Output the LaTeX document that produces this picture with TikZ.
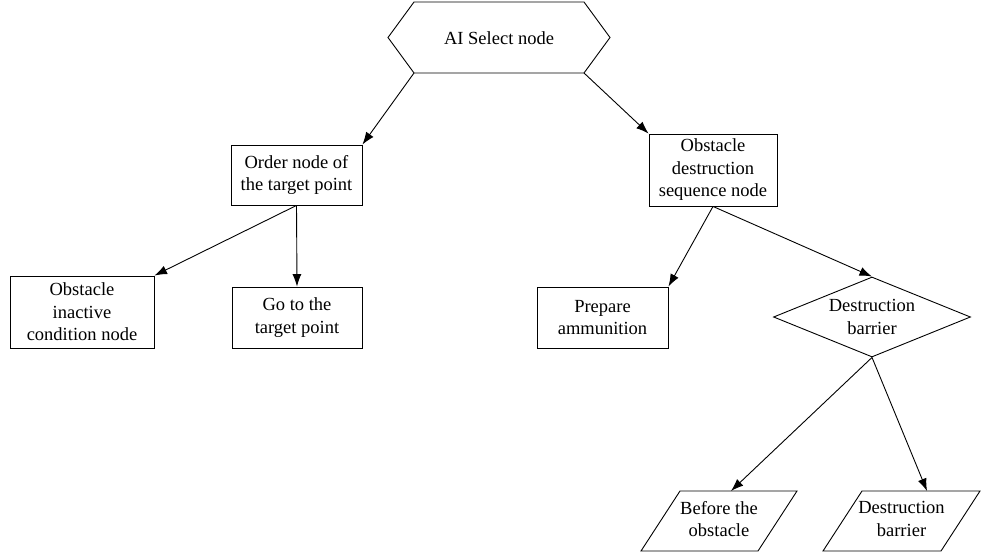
\documentclass[tikz,border=0pt]{standalone}
\usepackage{fontspec}
\setmainfont{Liberation Serif}
\usetikzlibrary{arrows.meta,shapes.geometric}
\begin{document}
\begin{tikzpicture}[x=1pt,y=1pt,
  every node/.style={font=\fontsize{18.5}{22.5}\selectfont, align=center, inner sep=0pt},
  outline/.style={draw, line width=0.9pt},
  boxnode/.style={outline, rectangle},
  conn/.style={-{Latex[length=12.5pt,width=9pt]}, line width=0.9pt}
]
\useasboundingbox (0,0) rectangle (985,-559);

% root selector (hexagon)
\coordinate (hexl)  at (388,-37.5);
\coordinate (hextl) at (414,-2);
\coordinate (hextr) at (584,-2);
\coordinate (hexr)  at (610,-37.5);
\coordinate (hexbr) at (584,-73);
\coordinate (hexbl) at (414,-73);
\draw[outline] (hexl) -- (hextl) -- (hextr) -- (hexr) -- (hexbr) -- (hexbl) -- cycle;
\node (root) at (499,-38) {AI Select node};

% second level
\node[boxnode, minimum width=131pt, minimum height=60pt] (order) at (296.5,-175)
  {Order node of\\the target point};
\node[boxnode, minimum width=128pt, minimum height=72pt] (seq) at (713,-170)
  {Obstacle\\destruction\\sequence node};

% third level
\node[boxnode, minimum width=144pt, minimum height=72pt] (inactive) at (82,-312)
  {Obstacle\\inactive\\condition node};
\node[boxnode, minimum width=130pt, minimum height=61pt] (goto) at (297,-317.5)
  {Go to the\\target point};
\node[boxnode, minimum width=131pt, minimum height=61pt] (prepare) at (602.5,-317.5)
  {Prepare\\ammunition};
\node[outline, diamond, aspect=2.46, minimum width=197pt, minimum height=80pt] (barrier)
  at (872,-317) {Destruction\\barrier};

% leaves (parallelograms)
\draw[outline] (641,-551) -- (680,-491) -- (797,-491) -- (758,-551) -- cycle;
\coordinate (p1top) at (731,-491);
\node (before) at (719,-519) {Before the\\obstacle};

\draw[outline] (823,-551) -- (862,-491) -- (980,-491) -- (941,-551) -- cycle;
\coordinate (p2top) at (927,-491);
\node (destroy) at (901.5,-519) {Destruction\\barrier};

% connectors
\draw[conn] (hexbl) -- (order.north east);
\draw[conn] (hexbr) -- (seq.north west);
\draw[conn] (order.south) -- (inactive.north east);
\draw[conn] (order.south) -- (goto.north);
\draw[conn] (seq.south) -- (prepare.north east);
\draw[conn] (seq.south) -- (barrier.north);
\draw[conn] (barrier.south) -- (p1top);
\draw[conn] (barrier.south) -- (p2top);
\end{tikzpicture}
\end{document}
